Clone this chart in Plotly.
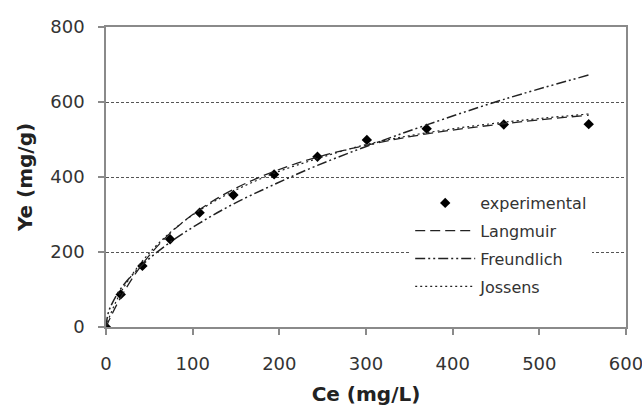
import plotly.graph_objects as go

# Measured equilibrium data
ce_exp = [0, 17, 42, 74, 108, 147, 194, 244, 301, 370, 459, 557]
ye_exp = [0, 87, 163, 234, 305, 352, 407, 454, 499, 529, 540, 541]

# Isotherm model curves
ce_model = [0, 2, 5, 17, 42, 74, 108, 147, 194, 244, 301, 370, 459, 557]
ye_langmuir = [0, 10, 25, 79, 168, 250, 313, 367, 415, 453, 485, 515, 542, 565]
ye_freundlich = [0, 32, 53, 102, 166, 226, 277, 328, 380, 431, 482, 539, 607, 672]
ye_jossens = [0, 14, 33, 92, 176, 252, 311, 362, 410, 449, 487, 518, 546, 568]

x_ticks = [0, 100, 200, 300, 400, 500, 600]
y_ticks = [0, 200, 400, 600, 800]

FONT = "DejaVu Sans"
AXIS_GREY = "#8a8a8a"

fig = go.Figure()

fig.add_trace(go.Scatter(
    x=ce_exp, y=ye_exp, mode="markers", name="experimental",
    marker=dict(symbol="diamond", size=8, color="black"),
    legendgroup="a",
))
fig.add_trace(go.Scatter(
    x=ce_model, y=ye_langmuir, mode="lines", name="Langmuir",
    line=dict(color="#222222", width=1.3, dash="10px,5px", shape="spline"),
    legendgroup="b",
))
fig.add_trace(go.Scatter(
    x=ce_model, y=ye_freundlich, mode="lines", name="Freundlich",
    line=dict(color="#222222", width=1.5, dash="10px,3px,2px,3px,2px,3px", shape="spline"),
    legendgroup="c",
))
fig.add_trace(go.Scatter(
    x=ce_model, y=ye_jossens, mode="lines", name="Jossens",
    line=dict(color="#222222", width=1.2, dash="2px,3px", shape="spline"),
    legendgroup="d",
))

fig.update_layout(
    width=642, height=408,
    margin=dict(l=106, r=16, t=27, b=81),
    paper_bgcolor="white", plot_bgcolor="white",
    font=dict(family=FONT, size=18, color="#333333"),
    showlegend=True,
    legend=dict(
        x=0.585, y=0.47, xanchor="left", yanchor="top",
        bgcolor="white", borderwidth=0,
        font=dict(family=FONT, size=16, color="#333333"),
        itemwidth=60, traceorder="grouped", tracegroupgap=4,
    ),
    xaxis=dict(
        range=[0, 600], tickvals=x_ticks, ticktext=[str(v) for v in x_ticks],
        showline=True, linecolor=AXIS_GREY, linewidth=1.5, mirror=True,
        ticks="outside", ticklen=6, tickcolor=AXIS_GREY, tickwidth=1.5,
        ticklabelstandoff=14, ticklabeloverflow="allow", automargin=False,
        showgrid=False, zeroline=False,
        title=dict(text="<b>Ce (mg/L)</b>", font=dict(family=FONT, size=20, color="#222222"), standoff=14),
    ),
    yaxis=dict(
        range=[0, 800], tickvals=y_ticks, ticktext=[str(v) for v in y_ticks],
        showline=True, linecolor=AXIS_GREY, linewidth=1.5, mirror=True,
        ticks="outside", ticklen=6, tickcolor=AXIS_GREY, tickwidth=1.5,
        ticklabelstandoff=10, automargin=False,
        showgrid=True, gridcolor="#555555", gridwidth=1, griddash="3px,2px",
        zeroline=False,
        title=dict(text="<b>Ye (mg/g)</b>", font=dict(family=FONT, size=20, color="#222222"), standoff=12),
    ),
)

fig.write_html("out.html")
